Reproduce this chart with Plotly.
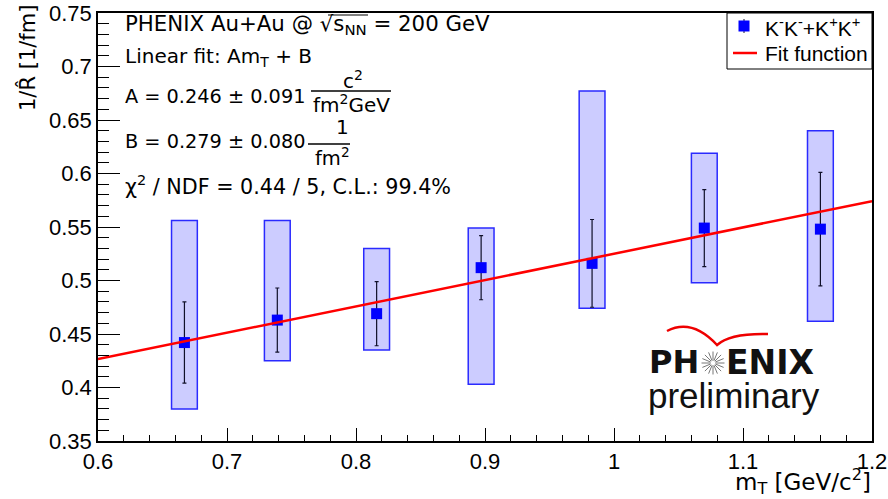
import numpy as np
import plotly.graph_objects as go

# ---------------- data ----------------
mt = [0.667, 0.739, 0.816, 0.897, 0.983, 1.070, 1.160]
inv_r = [0.442, 0.463, 0.469, 0.512, 0.516, 0.549, 0.548]
stat_err = [0.038, 0.030, 0.030, 0.030, 0.041, 0.036, 0.053]
sys_high = [0.556, 0.556, 0.530, 0.549, 0.677, 0.619, 0.640]
sys_low = [0.380, 0.425, 0.435, 0.403, 0.474, 0.498, 0.462]
fit_A = 0.246
fit_B = 0.279
x_range = [0.6, 1.2]
y_range = [0.35, 0.75]
series_name = "K<sup>-</sup>K<sup>-</sup>+K<sup>+</sup>K<sup>+</sup>"
fit_name = "Fit function"

# ---------------- layout constants ----------------
W, H = 888, 499
L, R, T, B = 98, 872, 13, 441
FONT = "Liberation Sans, Arial, sans-serif"
TFONT = "DejaVu Sans, sans-serif"
BOX_HW = 0.010


def px(x):
    return (x - L) / (R - L)


def py(y):
    return (B - y) / (B - T)


fig = go.Figure()

shapes = []
# systematic boxes
for x, lo, hi in zip(mt, sys_low, sys_high):
    shapes.append(dict(type="rect", xref="x", yref="y", x0=x - BOX_HW, x1=x + BOX_HW,
                       y0=lo, y1=hi, fillcolor="#ccccff",
                       line=dict(color="#2a2aff", width=1.5), layer="below"))

fig.add_trace(go.Scatter(
    x=mt, y=inv_r, mode="markers", name=series_name, showlegend=False,
    marker=dict(symbol="square", size=11, color="#0000ff"),
    error_y=dict(type="data", array=stat_err, color="#10102a", thickness=1.2, width=2),
))

fit_x = x_range
fit_y = [fit_A * v + fit_B for v in fit_x]
fig.add_trace(go.Scatter(
    x=fit_x, y=fit_y, mode="lines", name=fit_name, showlegend=False,
    line=dict(color="#ff0000", width=2.5),
))

# ---------------- annotations ----------------
anns = []


def text(x, y, s, size=21, xa="left", ya="middle", family=TFONT, color="black", **kw):
    anns.append(dict(x=px(x), y=py(y), xref="paper", yref="paper", text=s, showarrow=False,
                     xanchor=xa, yanchor=ya, font=dict(family=family, size=size, color=color), **kw))


def pline(x0, y0, x1, y1, color="black", width=1.5):
    shapes.append(dict(type="line", xref="paper", yref="paper", x0=px(x0), x1=px(x1),
                       y0=py(y0), y1=py(y1), line=dict(color=color, width=width)))


text(123, 25, "PHENIX Au+Au @ √s<sub>NN</sub> = 200 GeV", size=21.3)
pline(328, 15, 368, 15, width=1.2)
text(123, 57, "Linear fit: Am<sub>T</sub> + B", size=20)
text(123, 96, "A = 0.246 ± 0.091", size=19.3)
text(353, 80, "c<sup>2</sup>", xa="center", size=20)
text(351, 104, "fm<sup>2</sup>GeV", xa="center", size=20)
pline(311, 91, 391, 91)
text(123, 142, "B = 0.279 ± 0.080", size=19.3)
text(342, 127, "1", xa="center", size=20)
text(332, 157, "fm<sup>2</sup>", xa="center", size=19.5)
pline(308, 144, 350, 144)
text(123, 186, "χ<sup>2</sup> / NDF = 0.44 / 5, C.L.: 99.4%", size=20.7)

# axis titles
text(28, 3, "1/R\u0302 [1/fm]", size=21, xa="center", ya="top", textangle=-90)
text(873, 482, "m<sub>T</sub> [GeV/c<sup>2</sup>]", size=23, xa="right")

# legend (drawn manually, ROOT style)
shapes.append(dict(type="rect", xref="paper", yref="paper", x0=px(727), x1=px(872), y0=py(69), y1=py(13),
                   fillcolor="white", line=dict(color="black", width=1)))
pline(744, 19, 744, 33, color="#10102a", width=1)
shapes.append(dict(type="rect", xref="paper", yref="paper", x0=px(738.5), x1=px(749.5), y0=py(31.5),
                   y1=py(20.5), fillcolor="#0000ff", line=dict(width=0)))
text(763, 27, series_name, size=21, family=FONT)
pline(733, 53, 757, 53, color="#ff0000", width=2.5)
text(763, 53, fit_name, size=21, family=FONT)

# PHENIX preliminary logo
text(701, 362, "<b>PH</b>", size=32, xa="right", family="DejaVu Sans", color="#111")
text(724, 362, "<b>ENIX</b>", size=33, xa="left", family="DejaVu Sans", color="#111")
text(734, 395, "preliminary", size=35, xa="center", family=FONT, color="#111")
cx, cy, r_out, r_in = 713, 363, 11.5, 2.5
for k in range(16):
    a = np.pi * k / 8
    pline(cx + r_in * np.cos(a), cy + r_in * np.sin(a), cx + r_out * np.cos(a), cy + r_out * np.sin(a),
          color="#777", width=1)

swoosh = ("M {},{} Q {},{} {},{} Q {},{} {},{}").format(
    px(667), py(331), px(692), py(318), px(717), py(345), px(730), py(333), px(768), py(334))
shapes.append(dict(type="path", xref="paper", yref="paper", path=swoosh,
                   line=dict(color="#ee0000", width=2.5)))

fig.update_layout(
    width=W, height=H,
    margin=dict(l=L, r=W - R, t=T, b=H - B, pad=0, autoexpand=False),
    plot_bgcolor="white", paper_bgcolor="white",
    shapes=shapes, annotations=anns,
    showlegend=False,
    xaxis=dict(range=x_range, showline=True, linecolor="black", linewidth=1.5, mirror=True,
               ticks="inside", ticklen=13, tickwidth=1.2, tickcolor="black", tick0=0.6, dtick=0.1,
               minor=dict(ticks="inside", ticklen=6.5, dtick=0.02, tickcolor="black", tickwidth=1.2),
               showgrid=False, zeroline=False, automargin=False,
               tickfont=dict(family=FONT, size=22, color="black")),
    yaxis=dict(range=y_range, showline=True, linecolor="black", linewidth=1.5, mirror=True,
               ticks="inside", ticklen=22, tickwidth=1.2, tickcolor="black", tick0=0.35, dtick=0.05,
               minor=dict(ticks="inside", ticklen=11, dtick=0.01, tickcolor="black", tickwidth=1.2),
               showgrid=False, zeroline=False, automargin=False,
               tickfont=dict(family=FONT, size=22, color="black")),
)

fig.write_html("out.html", config={"displayModeBar": False},
               post_script="document.body.style.margin='0px';")
